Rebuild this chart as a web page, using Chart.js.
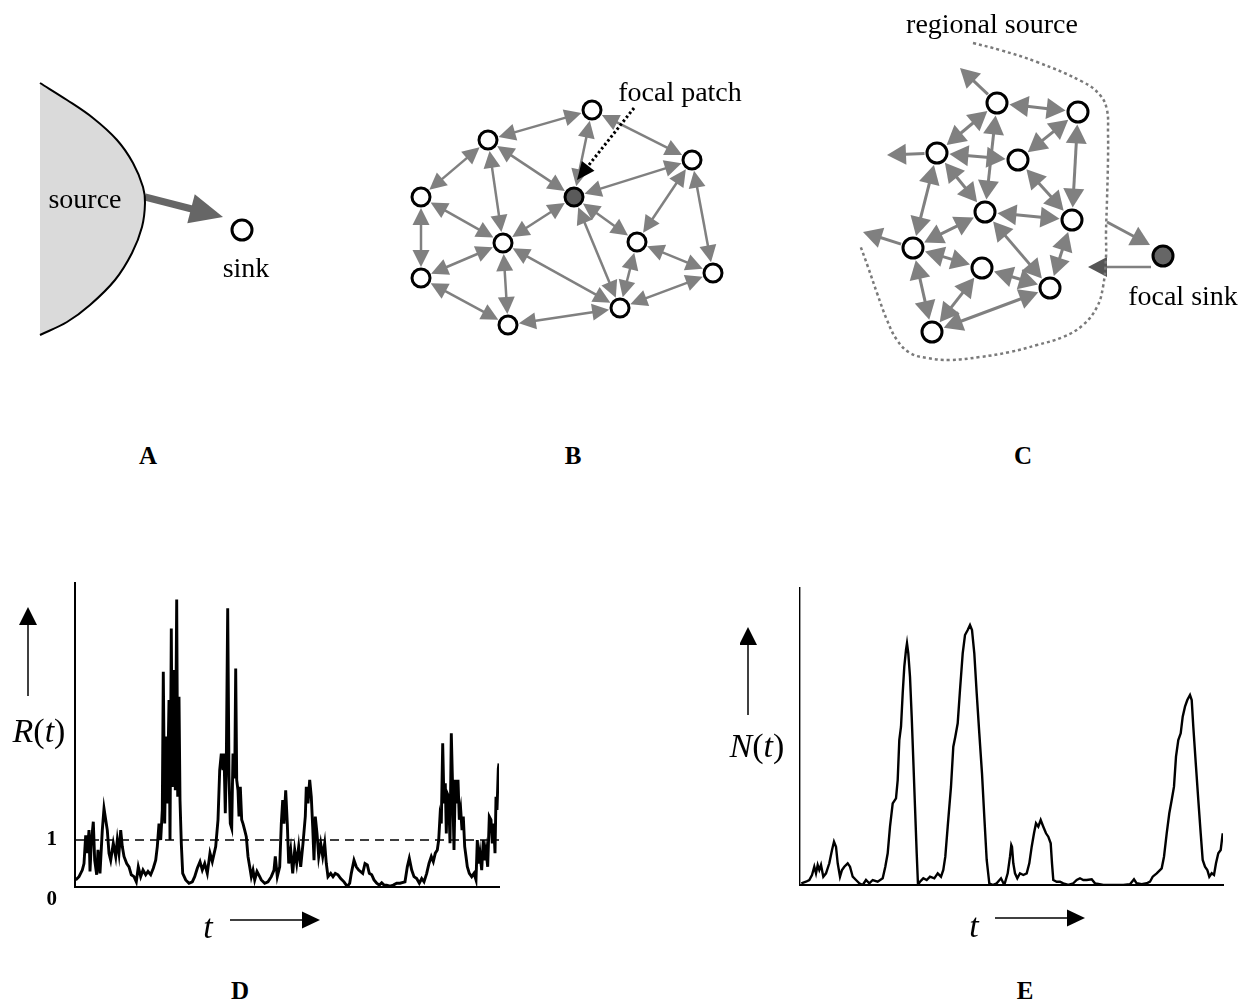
<!DOCTYPE html>
<html>
<head>
<meta charset="utf-8">
<title>Source-sink dynamics</title>
<script src="https://cdn.jsdelivr.net/npm/chart.js@4.4.1/dist/chart.umd.min.js"></script>
<style>
  html, body { margin: 0; padding: 0; background: #fff; }
  body { position: relative; width: 1247px; height: 1006px; overflow: hidden;
         font-family: 'Liberation Serif', 'Times New Roman', serif; color: #000; }
  canvas { position: absolute; }
  .lbl { position: absolute; line-height: 1; white-space: nowrap; transform: translateX(-50%); }
</style>
</head>
<body>
<canvas id="chartA" width="320" height="310" style="left:0px;top:60px"></canvas>
<canvas id="chartB" width="360" height="280" style="left:390px;top:70px"></canvas>
<canvas id="chartC" width="407" height="380" style="left:840px;top:0px"></canvas>
<canvas id="chartD" width="510" height="370" style="left:0px;top:570px"></canvas>
<canvas id="chartE" width="500" height="365" style="left:740px;top:575px"></canvas>
<script>
// ---- panel A: source and sink (diagram units) ----
const aSource = [[40,23],[67,40],[93,58],[117,80],[133,103],[143,127],[145,143],
                 [142,167],[132,193],[115,220],[90,245],[67,262],[40,275]];
const aSink = [242,170];
const aFlow = { from: [145,137], to: [223,157] };

// ---- panel B: patch network ----
const bNodes = [[202,40],[98,70],[302,90],[31,127],[184,127],[113,173],
                [247,172],[31,208],[323,203],[230,238],[118,255]];
const bFocal = 4;
const bEdges = [[1,0],[1,3],[1,5],[1,4],[0,4],[0,2],[2,4],[2,6],[2,8],[3,5],[3,7],
                [4,5],[4,6],[4,9],[5,7],[5,10],[5,9],[6,9],[6,8],[7,10],[10,9],[9,8]];
const bPointer = { from: [244,38], to: [187,110] };

// ---- panel C: regional source and focal sink ----
const cNodes = [[157,103],[238,112],[97,153],[178,160],[145,212],
                [232,220],[73,248],[142,268],[210,288],[92,332]];
const cEdges = [[0,1],[0,2],[0,4],[2,3],[2,4],[2,6],[1,3],[1,5],[3,5],
                [4,5],[4,6],[4,8],[6,7],[6,9],[5,8],[7,8],[7,9],[9,8]];
const cOutward = [[0,[120,68]],[2,[47,155]],[6,[23,232]]];
const cSink = [323,256];
const cInflow = { from: [267,222], to: [310,245] };
const cOutflow = { from: [311,267], to: [248,267] };
const cBoundary = [[133,43],[160,50],[197,62],[243,82],[260,95],[267,110],[268,133],
                   [268,160],[267,200],[266,233],[266,257],[263,287],[257,307],[243,325],
                   [223,337],[197,345],[170,352],[140,357],[110,360],[87,358],[70,353],
                   [57,340],[47,320],[37,293],[28,267],[20,245]];

// ---- panel D: R(t) ----
const dT = [
  0.7, 4, 7.3, 9, 10.7, 12.3, 14, 15, 16.3, 18.3,
  19.7, 21.7, 23, 25, 27.3, 29, 30.7, 32.3, 34, 35.7,
  38.3, 40.7, 42.3, 44, 45.7, 47.3, 49, 51.7, 54, 56.3,
  59, 61.3, 63.3, 65.7, 68, 70.7, 73, 75.7, 78.3, 80.7,
  82.3, 84, 85.7, 87.3, 88.3, 89.7, 91, 92.3, 94, 95,
  96.3, 97.3, 99, 100.3, 101.7, 102.7, 104, 105, 106.3, 107.7,
  110.7, 114, 117.3, 119.7, 122.3, 125, 127.3, 129.7, 132.3, 135,
  137.3, 140.7, 143, 144.7, 146.3, 148, 149, 150.3, 151.3, 152.7,
  154, 155.3, 156.7, 158, 159.7, 160.7, 161.7, 163, 164, 165.3,
  166.7, 168, 169.7, 171.3, 173, 174.7, 176.3, 178, 179.7, 182,
  184.7, 186.3, 189.7, 193, 196.3, 199, 200.3, 202.3, 204.7, 206.3,
  207.7, 209, 210.7, 212.3, 213.7, 215.7, 217.7, 219.7, 221.7, 223.7,
  225.7, 228, 230.3, 231.3, 233, 234.7, 236.3, 237.7, 239, 240.3,
  242, 243.7, 245.7, 247.7, 249.7, 251.3, 253, 255.7, 258, 260.3,
  263, 265.7, 269, 272.3, 274.7, 276.3, 279, 281.3, 283.7, 287.7,
  290, 292.3, 294.3, 296.7, 299, 301.7, 304.3, 306.7, 309, 311.7,
  315, 318.3, 321.7, 325, 330, 332.3, 334.3, 336.7, 339, 341.7,
  344.3, 346.7, 349, 351.7, 354, 356.3, 358.3, 360.3, 362.3, 363.7,
  365, 366.3, 367.7, 369, 370.3, 371.3, 372.3, 373.7, 375, 376.3,
  377.7, 379, 380.3, 381.7, 383, 384.3, 385.7, 387, 388.3, 389.7,
  391, 392.3, 394.3, 396.7, 399, 401, 402.3, 403.7, 405, 406.7,
  408.3, 409.7, 411, 412.7, 414.3, 416, 417.3, 418.7, 420, 421,
  422, 423.3, 424
];
const dR = [
  0.15, 0.22, 0.36, 0.5, 1.1, 0.72, 1.21, 0.33, 0.93, 1.39,
  0.57, 0.26, 0.79, 0.29, 1.21, 1.67, 1.43, 1.21, 0.72, 0.57,
  0.93, 0.65, 1.0, 0.72, 1.21, 0.86, 0.65, 0.5, 0.43, 0.26,
  0.22, 0.11, 0.43, 0.22, 0.36, 0.26, 0.33, 0.26, 0.4, 0.57,
  0.86, 1.35, 1.0, 1.64, 4.58, 1.35, 3.2, 1.78, 3.98, 1.0,
  5.5, 2.13, 4.62, 2.06, 6.12, 1.92, 4.05, 1.85, 0.93, 0.29,
  0.15, 0.08, 0.11, 0.22, 0.4, 0.54, 0.36, 0.5, 0.29, 0.72,
  0.54, 0.86, 1.43, 2.49, 2.84, 2.49, 2.84, 1.57, 2.63, 5.93,
  2.35, 1.35, 1.25, 2.84, 2.31, 4.65, 2.28, 2.06, 1.5, 2.13,
  1.43, 1.35, 1.21, 1.07, 0.65, 0.43, 0.22, 0.36, 0.15, 0.33,
  0.22, 0.15, 0.08, 0.11, 0.22, 0.36, 0.65, 0.22, 0.43, 1.35,
  1.85, 1.35, 2.06, 1.35, 0.5, 0.79, 0.29, 0.79, 0.5, 0.86,
  0.43, 0.93, 1.5, 2.13, 1.78, 2.28, 1.92, 1.28, 0.57, 1.5,
  1.14, 0.65, 0.93, 0.65, 0.93, 0.5, 0.22, 0.29, 0.22, 0.29,
  0.26, 0.18, 0.11, 0.01, 0.08, 0.29, 0.57, 0.43, 0.36, 0.29,
  0.5, 0.47, 0.29, 0.26, 0.15, 0.08, 0.04, 0.09, 0.04, 0.04,
  0.02, 0.04, 0.08, 0.08, 0.11, 0.43, 0.61, 0.36, 0.22, 0.18,
  0.08, 0.18, 0.11, 0.29, 0.5, 0.65, 0.54, 0.72, 0.79, 1.0,
  1.5, 1.35, 3.06, 1.78, 2.21, 1.14, 1.99, 1.92, 0.93, 3.27,
  2.06, 0.79, 2.28, 1.78, 2.28, 1.43, 1.64, 1.21, 1.5, 0.86,
  0.65, 0.43, 0.29, 0.22, 0.29, 0.15, 1.0, 0.5, 0.72, 0.36,
  1.0, 0.57, 0.79, 0.43, 1.5, 1.43, 0.93, 1.35, 0.72, 1.92,
  1.64, 2.52, 2.63
];
const dThreshold = 1;
const dTicks = [0, 1];
const dTMax = 424;
const dRMax = 6.47;

// ---- panel E: N(t) ----
const eT = [
  1.3, 6, 9.3, 12, 14.3, 16, 17.7, 19.3, 21, 23.3,
  26, 29.3, 32, 34, 36, 37.7, 40, 42, 44.3, 47.7,
  50, 52.7, 56, 59.3, 62.7, 66, 69.3, 72.7, 77.7, 82.7,
  85.3, 87.7, 90, 92.7, 96, 97.7, 99.3, 101, 102.7, 104.3,
  106, 107, 108.3, 110, 111.7, 113.3, 115, 116.7, 118, 120,
  123.3, 126.7, 130, 134.3, 137.7, 141, 143.3, 145.3, 147.7, 151,
  153.3, 155.3, 157.7, 160, 162.7, 165, 167.7, 170, 172, 174.3,
  176.7, 179.3, 182, 184.3, 186.7, 189.3, 192.7, 196.7, 201, 204.3,
  207.7, 210, 211.3, 212, 213.3, 215, 217.3, 220, 223.3, 226.7,
  229.3, 231.7, 234, 236, 238.3, 240.7, 243.3, 246, 248.3, 250.7,
  252, 253.3, 256.7, 260, 263.3, 268.3, 273.3, 276.7, 280, 283.3,
  286.7, 291.7, 295, 298.3, 303.3, 310, 316.7, 323.3, 330, 334,
  336.7, 341.7, 346.7, 350, 352.7, 356.7, 361.7, 364, 366.7, 369.3,
  371.7, 374, 376, 378.3, 380.7, 382.7, 385, 387.3, 390, 391.7,
  393.3, 396, 398.3, 400.7, 402.7, 405, 407.3, 409.3, 411.7, 414,
  416, 418.3, 420.7, 422.7
];
const eN = [
  0.17, 0.33, 0.5, 1.0, 1.83, 1.17, 2.0, 1.5, 2.0, 0.83,
  1.17, 2.17, 3.5, 4.33, 3.83, 2.17, 0.83, 1.5, 1.83, 2.17,
  1.83, 0.83, 0.5, 0.17, 0, 0.5, 0.17, 0.5, 0.33, 0.67,
  1.83, 3.17, 5.83, 8.17, 8.67, 10.5, 14.5, 15.83, 19.17, 21.83,
  23.5, 24.17, 23.17, 20.83, 16.83, 12.5, 7.83, 3.17, 0, 0.33,
  0.67, 0.5, 0.83, 0.67, 1.17, 0.83, 1.5, 2.83, 5.83, 9.83,
  13.83, 14.83, 16.17, 19.5, 23.17, 25, 25.5, 26, 25.5, 23.17,
  19.17, 15.17, 11.17, 6.83, 2.5, 0.17, 0, 0.17, 0.67, 0,
  1.17, 2.83, 4.0, 3.83, 2.17, 1.17, 0.67, 1.17, 1.0, 1.17,
  2.17, 3.83, 5.17, 6.17, 5.83, 6.5, 5.83, 5.17, 4.83, 4.17,
  2.17, 0.5, 0.33, 0.33, 0.17, 0, 0.17, 0.5, 0.67, 0.5,
  0.5, 0.57, 0.17, 0.1, 0, 0, 0, 0, 0.07, 0.57,
  0.17, 0.07, 0.17, 0.33, 0.83, 1.17, 1.67, 2.83, 5.17, 7.17,
  8.5, 9.83, 12.83, 14.5, 15.17, 16.83, 17.83, 18.5, 19, 18.5,
  15.83, 11.83, 8.5, 5.17, 2.5, 1.83, 1.5, 0.83, 1.17, 1.0,
  2.17, 3.17, 3.5, 5.17
];
const eTMax = 423;
const eNMax = 29.7;

const SERIF = "'Liberation Serif', 'Times New Roman', serif";
const pt = ([x, y]) => ({ x, y });

function head(ctx, x, y, ux, uy, len, half) {
  const bx = x - ux * len, by = y - uy * len;
  ctx.beginPath();
  ctx.moveTo(x, y);
  ctx.lineTo(bx - uy * half, by + ux * half);
  ctx.lineTo(bx + uy * half, by - ux * half);
  ctx.closePath();
  ctx.fill();
}

// draws arrows (shaft + heads) between data points, under the datasets
function arrowLayer(list) {
  return {
    id: 'arrowLayer',
    beforeDatasetsDraw(chart) {
      const { ctx, scales: { x, y } } = chart;
      list.forEach(a => {
        let x1 = x.getPixelForValue(a.from[0]), y1 = y.getPixelForValue(a.from[1]);
        let x2 = x.getPixelForValue(a.to[0]), y2 = y.getPixelForValue(a.to[1]);
        const len = Math.hypot(x2 - x1, y2 - y1);
        const ux = (x2 - x1) / len, uy = (y2 - y1) / len;
        const cf = a.cutFrom || 0, ct = a.cutTo || 0;
        x1 += ux * cf; y1 += uy * cf;
        x2 -= ux * ct; y2 -= uy * ct;
        const s = a.style, hb = s.head * 0.7;
        ctx.save();
        ctx.strokeStyle = s.color;
        ctx.lineWidth = s.width;
        ctx.setLineDash(s.dash || []);
        ctx.beginPath();
        ctx.moveTo(a.both ? x1 + ux * hb : x1, a.both ? y1 + uy * hb : y1);
        ctx.lineTo(x2 - ux * hb, y2 - uy * hb);
        ctx.stroke();
        ctx.setLineDash([]);
        ctx.fillStyle = s.headColor || s.color;
        head(ctx, x2, y2, ux, uy, s.head, s.half);
        if (a.both) head(ctx, x1, y1, -ux, -uy, s.head, s.half);
        ctx.restore();
      });
    }
  };
}

// the "up" arrow beside the y axis and the t arrow under the x axis
function axisArrows(o) {
  return {
    id: 'axisArrows',
    afterDraw(chart) {
      const { ctx, chartArea: a } = chart;
      ctx.save();
      ctx.strokeStyle = '#000';
      ctx.fillStyle = '#000';
      ctx.lineWidth = 1.5;
      const ux = a.left + o.upX, uy0 = a.bottom + o.upFrom, uy1 = a.top + o.upTo;
      ctx.beginPath(); ctx.moveTo(ux, uy0); ctx.lineTo(ux, uy1 + 12); ctx.stroke();
      head(ctx, ux, uy1, 0, -1, 18, 9);
      const ty = a.bottom + o.tY, tx0 = a.left + o.tFrom, tx1 = a.left + o.tTo;
      ctx.beginPath(); ctx.moveTo(tx0, ty); ctx.lineTo(tx1 - 12, ty); ctx.stroke();
      head(ctx, tx1, ty, 1, 0, 18, 8.5);
      ctx.restore();
    }
  };
}

function diagramOptions(w, h) {
  return {
    responsive: false, animation: false, devicePixelRatio: 1,
    layout: { padding: 0, autoPadding: false },
    plugins: { legend: { display: false }, tooltip: { enabled: false } },
    scales: {
      x: { type: 'linear', display: false, min: 0, max: w },
      y: { type: 'linear', display: false, min: 0, max: h, reverse: true }
    }
  };
}

// ---------- A ----------
new Chart(document.getElementById('chartA'), {
  type: 'scatter',
  data: { datasets: [
    { data: [aSink].map(pt), pointRadius: 10, pointBorderWidth: 3,
      pointBorderColor: '#000', pointBackgroundColor: '#fff' },
    { data: aSource.map(pt), showLine: true, fill: 'shape', tension: 0.35,
      backgroundColor: '#dadada', borderColor: '#000', borderWidth: 2, pointRadius: 0 }
  ]},
  options: diagramOptions(320, 310),
  plugins: [arrowLayer([
    { from: aFlow.from, to: aFlow.to,
      style: { color: '#666', width: 7, head: 33, half: 15 } }
  ])]
});

// ---------- B ----------
const bStyle = { color: '#808080', width: 2.5, head: 17, half: 8.5 };
new Chart(document.getElementById('chartB'), {
  type: 'scatter',
  data: { datasets: [
    { data: bNodes.map(pt), pointRadius: 9, pointBorderWidth: 3, pointBorderColor: '#000',
      pointBackgroundColor: bNodes.map((_, i) => i === bFocal ? '#5a5a5a' : '#fff') }
  ]},
  options: diagramOptions(360, 280),
  plugins: [arrowLayer([
    ...bEdges.map(([i, j]) => ({ from: bNodes[i], to: bNodes[j], both: true,
      cutFrom: 11, cutTo: 11, style: bStyle })),
    { from: bPointer.from, to: bPointer.to,
      style: { color: '#000', width: 3, dash: [2.5, 2.5], head: 18, half: 8 } }
  ])]
});

// ---------- C ----------
const cStyle = { color: '#808080', width: 3, head: 19, half: 10.5 };
new Chart(document.getElementById('chartC'), {
  type: 'scatter',
  data: { datasets: [
    { data: cNodes.map(pt), pointRadius: 10, pointBorderWidth: 3,
      pointBorderColor: '#000', pointBackgroundColor: '#fff' },
    { data: [cSink].map(pt), pointRadius: 10, pointBorderWidth: 3,
      pointBorderColor: '#000', pointBackgroundColor: '#666' },
    { data: cBoundary.map(pt), showLine: true, tension: 0.4, pointRadius: 0,
      borderColor: '#7a7a7a', borderWidth: 2.5, borderDash: [3, 3], fill: false }
  ]},
  options: diagramOptions(407, 380),
  plugins: [arrowLayer([
    ...cEdges.map(([i, j]) => ({ from: cNodes[i], to: cNodes[j], both: true,
      cutFrom: 12.5, cutTo: 12.5, style: cStyle })),
    ...cOutward.map(([i, tip]) => ({ from: cNodes[i], to: tip, cutFrom: 12.5, style: cStyle })),
    { from: cInflow.from, to: cInflow.to, style: cStyle },
    { from: cOutflow.from, to: cOutflow.to,
      style: { color: '#808080', width: 2.5, head: 19, half: 10, headColor: '#555' } }
  ])]
});

// ---------- D ----------
const axisBorder = (w) => ({ display: true, color: '#000', width: w });
new Chart(document.getElementById('chartD'), {
  type: 'scatter',
  data: { datasets: [
    { data: dT.map((t, i) => ({ x: t, y: dR[i] })), showLine: true, tension: 0,
      borderColor: '#000', borderWidth: 2.9, pointRadius: 0 },
    { data: [{ x: 0, y: dThreshold }, { x: dTMax, y: dThreshold }], showLine: true,
      borderColor: '#000', borderWidth: 1.6, borderDash: [9, 6], pointRadius: 0 }
  ]},
  options: {
    responsive: false, animation: false, devicePixelRatio: 1,
    layout: { padding: { top: 13, right: 11, left: 0, bottom: 0 }, autoPadding: false },
    plugins: { legend: { display: false }, tooltip: { enabled: false } },
    scales: {
      x: { type: 'linear', min: 0, max: dTMax, grid: { display: false },
           border: axisBorder(2), ticks: { display: false },
           afterFit: s => { s.height = 53; } },
      y: { type: 'linear', min: 0, max: dRMax,
           // invisible tick marks keep the labels clear of the axis
           grid: { display: true, drawOnChartArea: false, drawTicks: true,
                   tickLength: 18, tickColor: 'rgba(0,0,0,0)' },
           border: axisBorder(2),
           afterBuildTicks: s => { s.ticks = dTicks.map(v => ({ value: v })); },
           ticks: { color: '#000', padding: 0,
                    font: { family: SERIF, size: 21, weight: 'bold' },
                    callback: v => v === 0 ? ['', '0'] : String(v) },
           afterFit: s => { s.width = 75; } }
    }
  },
  plugins: [axisArrows({ upX: -47, upFrom: -191, upTo: 24, tY: 33, tFrom: 155, tTo: 245 })]
});

// ---------- E ----------
new Chart(document.getElementById('chartE'), {
  type: 'scatter',
  data: { datasets: [
    { data: eT.map((t, i) => ({ x: t, y: eN[i] })), showLine: true, tension: 0,
      borderColor: '#000', borderWidth: 2.4, pointRadius: 0 }
  ]},
  options: {
    responsive: false, animation: false, devicePixelRatio: 1,
    layout: { padding: { top: 13, right: 17, left: 0, bottom: 0 }, autoPadding: false },
    plugins: { legend: { display: false }, tooltip: { enabled: false } },
    scales: {
      x: { type: 'linear', min: 0, max: eTMax, grid: { display: false },
           border: axisBorder(2), ticks: { display: false },
           afterFit: s => { s.height = 55; } },
      y: { type: 'linear', min: 0, max: eNMax, grid: { display: false },
           border: axisBorder(1.4), ticks: { display: false },
           afterFit: s => { s.width = 60; } }
    }
  },
  plugins: [axisArrows({ upX: -52, upFrom: -170, upTo: 39, tY: 33, tFrom: 195, tTo: 285 })]
});

// ---------- text labels: [html, centre x, baseline, size, css] ----------
const labels = [
  ['source', 85, 208, 28, ''],
  ['sink', 246, 277, 28, ''],
  ['focal patch', 680, 101, 28, ''],
  ['regional source', 992, 33, 28, ''],
  ['focal sink', 1183, 305, 28, ''],
  ['A', 148, 464, 25, 'font-weight:bold'],
  ['B', 573, 464, 25, 'font-weight:bold'],
  ['C', 1023, 464, 25, 'font-weight:bold'],
  ['D', 240, 999, 25, 'font-weight:bold'],
  ['E', 1025, 999, 25, 'font-weight:bold'],
  ['<i>R</i>(<i>t</i>)', 39, 742, 34, ''],
  ['<i>N</i>(<i>t</i>)', 757, 757, 34, ''],
  ['<i>t</i>', 208, 938, 34, ''],
  ['<i>t</i>', 974, 937, 34, '']
];
labels.forEach(([html, cx, base, size, css]) => {
  const d = document.createElement('div');
  d.className = 'lbl';
  d.innerHTML = html;
  d.style.cssText = `left:${cx}px;top:${base - 0.8375 * size}px;font-size:${size}px;${css}`;
  document.body.appendChild(d);
});
</script>
</body>
</html>
